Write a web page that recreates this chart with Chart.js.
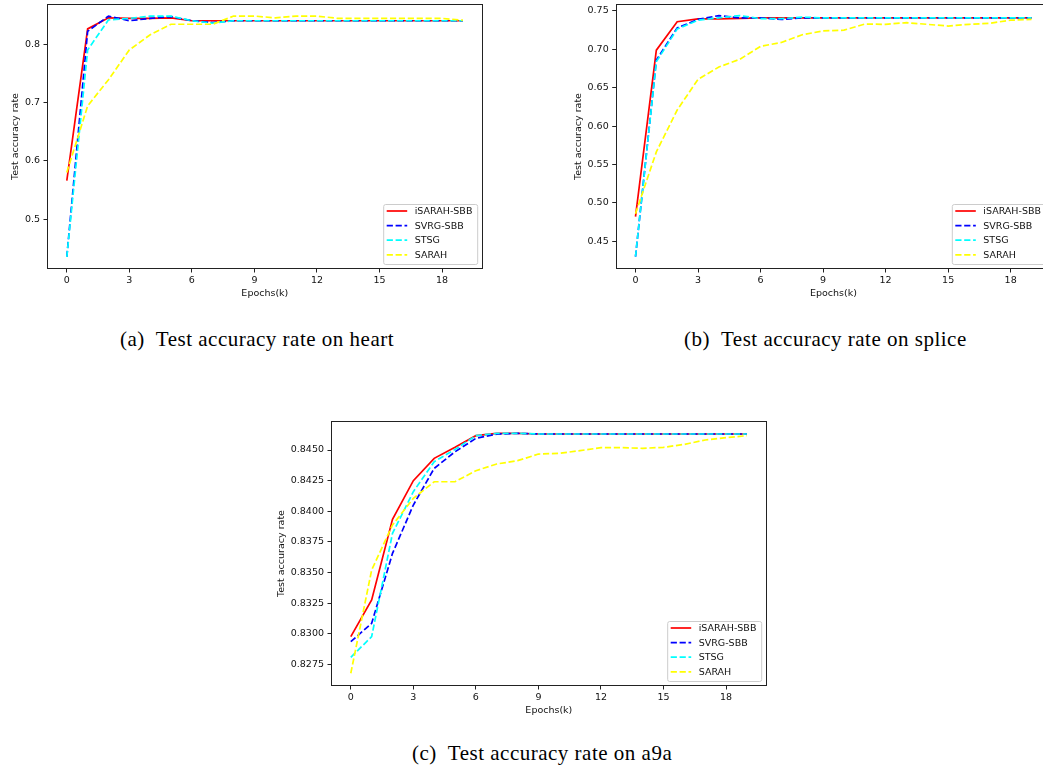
<!DOCTYPE html>
<html><head><meta charset="utf-8">
<script src="https://cdn.jsdelivr.net/npm/chart.js@4"></script>
<style>
html,body{margin:0;padding:0;background:#fff;width:1043px;height:769px;overflow:hidden;position:relative}
canvas{position:absolute;display:block}
.cap{position:absolute;font-family:"Liberation Serif","Times New Roman",serif;font-size:21px;letter-spacing:0.5px;color:#000;white-space:nowrap;line-height:21px}
.cap .g{margin-left:11px}
</style></head><body>
<canvas id="ca" width="490" height="305" style="left:0;top:0"></canvas>
<canvas id="cb" width="490" height="305" style="left:568px;top:0"></canvas>
<canvas id="cc" width="500" height="305" style="left:270px;top:417px"></canvas>
<div class="cap" style="left:120px;top:329px"><span>(a)</span><span class="g">Test accuracy rate on heart</span></div>
<div class="cap" style="left:684px;top:329px"><span>(b)</span><span class="g">Test accuracy rate on splice</span></div>
<div class="cap" style="left:412px;top:743px"><span>(c)</span><span class="g">Test accuracy rate on a9a</span></div>
<script>
const epochs = [0,1,2,3,4,5,6,7,8,9,10,11,12,13,14,15,16,17,18,19];
const xTicks = [0,3,6,9,12,15,18];
const seriesNames = ['iSARAH-SBB','SVRG-SBB','STSG','SARAH'];

// (a) heart
const heartISARAH = [0.566,0.826,0.845,0.844,0.844,0.845,0.840,0.840,0.840,0.840,0.840,0.840,0.840,0.840,0.840,0.840,0.840,0.840,0.840,0.840];
const heartSVRG   = [0.435,0.822,0.848,0.840,0.844,0.847,0.840,0.837,0.840,0.840,0.840,0.840,0.840,0.840,0.840,0.840,0.840,0.840,0.840,0.840];
const heartSTSG   = [0.435,0.790,0.8415,0.844,0.848,0.848,0.840,0.836,0.840,0.840,0.840,0.840,0.840,0.840,0.840,0.840,0.840,0.840,0.840,0.840];
const heartSARAH  = [0.580,0.694,0.739,0.790,0.816,0.834,0.834,0.834,0.848,0.848,0.845,0.848,0.848,0.844,0.844,0.844,0.844,0.844,0.844,0.841];
const heartTicks  = [0.5,0.6,0.7,0.8];

// (b) splice
const spliceISARAH = [0.482,0.699,0.736,0.7396,0.7396,0.7404,0.741,0.741,0.741,0.741,0.741,0.741,0.741,0.741,0.741,0.741,0.741,0.741,0.741,0.741];
const spliceSVRG   = [0.430,0.686,0.728,0.739,0.744,0.741,0.741,0.739,0.741,0.741,0.741,0.741,0.741,0.741,0.741,0.741,0.741,0.741,0.741,0.741];
const spliceSTSG   = [0.430,0.684,0.7265,0.738,0.741,0.744,0.740,0.740,0.742,0.741,0.741,0.741,0.741,0.741,0.741,0.741,0.741,0.741,0.741,0.741];
const spliceSARAH  = [0.486,0.5665,0.621,0.661,0.677,0.687,0.704,0.709,0.719,0.724,0.725,0.733,0.7326,0.7348,0.7326,0.7304,0.7326,0.734,0.738,0.739];
const spliceTicks  = [0.45,0.50,0.55,0.60,0.65,0.70,0.75];

// (c) a9a
const a9aISARAH = [0.82976,0.83275,0.83934,0.8425,0.84432,0.84522,0.84617,0.84636,0.84636,0.84631,0.84631,0.84631,0.84631,0.84631,0.84631,0.84631,0.84631,0.84631,0.84631,0.84631];
const a9aSVRG   = [0.82935,0.83085,0.83656,0.84051,0.8435,0.84486,0.84595,0.8463,0.84636,0.84631,0.84631,0.84631,0.84631,0.84631,0.84631,0.84631,0.84631,0.84631,0.84631,0.84631];
const a9aSTSG   = [0.82807,0.82976,0.8382,0.8416,0.84405,0.84505,0.84617,0.84636,0.84636,0.84631,0.84631,0.84631,0.84631,0.84631,0.84631,0.84631,0.84631,0.84631,0.84631,0.84631];
const a9aSARAH  = [0.82677,0.8352,0.83888,0.84105,0.84241,0.84241,0.84331,0.84386,0.84413,0.84467,0.84473,0.84495,0.84519,0.84519,0.84514,0.84522,0.84546,0.84582,0.84601,0.84617];
const a9aTicks  = [0.8275,0.8300,0.8325,0.8350,0.8375,0.8400,0.8425,0.8450];

const colors = ['#ff0000','#0000ff','#00ffff','#ffff00'];
const dashes = [[],[6.2,2.7],[6.2,2.7],[6.2,2.7]];
const LW = 1.7;
const FONT = 'DejaVu Sans';
const FS = 9.5;
const TXT = '#111';

const framePlugin = {
  id:'frame',
  afterDatasetsDraw(chart){
    const a = chart.chartArea, ctx = chart.ctx;
    ctx.save();
    ctx.strokeStyle = '#222'; ctx.lineWidth = 1;
    ctx.strokeRect(Math.round(a.left)+0.5, Math.round(a.top)+0.5, Math.round(a.right-a.left)-1, Math.round(a.bottom-a.top)-1);
    ctx.restore();
  }
};
const legendPlugin = {
  id:'mplLegend',
  afterDraw(chart){
    const a = chart.chartArea, ctx = chart.ctx;
    const W = 94, H = 60;
    const x0 = a.right - 5.5 - W, y0 = a.bottom - 5 - H;
    ctx.save();
    ctx.beginPath();
    if (ctx.roundRect) ctx.roundRect(x0+0.5, y0+0.5, W, H, 2); else ctx.rect(x0+0.5,y0+0.5,W,H);
    ctx.fillStyle = 'rgba(255,255,255,0.8)'; ctx.fill();
    ctx.strokeStyle = '#cccccc'; ctx.lineWidth = 1; ctx.stroke();
    ctx.font = FS + 'px "' + FONT + '"';
    ctx.textBaseline = 'middle'; ctx.textAlign = 'left';
    chart.data.datasets.forEach((ds, i) => {
      const y = y0 + 7 + i*14.6;
      ctx.beginPath();
      ctx.setLineDash(ds.borderDash || []);
      ctx.strokeStyle = ds.borderColor; ctx.lineWidth = LW;
      ctx.moveTo(x0+3.5, y); ctx.lineTo(x0+24, y); ctx.stroke();
      ctx.setLineDash([]);
      ctx.fillStyle = TXT;
      ctx.fillText(ds.label, x0+31.5, y+0.5);
    });
    ctx.restore();
  }
};

function makeChart(id, series, yTicks, ymin, ymax, decimals, yAxisW, padRight, titlePad){
  const datasets = series.map((vals, i) => ({
    label: seriesNames[i],
    data: epochs.map((e, j) => ({x: e, y: vals[j]})),
    borderColor: colors[i],
    backgroundColor: colors[i],
    borderWidth: LW,
    borderDash: dashes[i],
    pointRadius: 0,
    tension: 0,
    fill: false,
    order: 3 - i
  }));
  return new Chart(document.getElementById(id), {
    type: 'line',
    data: {datasets},
    options: {
      responsive: false,
      animation: false,
      events: [],
      layout: {padding: {top: 4, right: padRight, left: 0, bottom: 0}},
      plugins: {legend: {display: false}, tooltip: {enabled: false}},
      scales: {
        x: {
          type: 'linear', min: -0.95, max: 19.95,
          afterBuildTicks: s => { s.ticks = xTicks.map(v => ({value: v})); },
          afterFit: s => { s.height = 36; s.paddingLeft = 0; s.paddingRight = 0; s.paddingTop = 0; s.paddingBottom = 0; },
          ticks: {color: TXT, font: {family: FONT, size: FS}, padding: 2, maxRotation: 0, autoSkip: false, callback: v => String(v)},
          grid: {display: true, drawOnChartArea: false, drawTicks: true, tickLength: 3.5, color: '#222', lineWidth: 1},
          border: {display: false},
          title: {display: true, text: 'Epochs(k)', color: TXT, font: {family: FONT, size: FS}, padding: {top: 0, bottom: 5.5}}
        },
        y: {
          type: 'linear', min: ymin, max: ymax,
          afterBuildTicks: s => { s.ticks = yTicks.map(v => ({value: v})); },
          afterFit: s => { s.width = yAxisW; s.paddingLeft = 0; s.paddingRight = 0; s.paddingTop = 0; s.paddingBottom = 0; },
          ticks: {color: TXT, font: {family: FONT, size: FS}, padding: 3.5, autoSkip: false, callback: v => v.toFixed(decimals)},
          grid: {display: true, drawOnChartArea: false, drawTicks: true, tickLength: 3.5, color: '#222', lineWidth: 1},
          border: {display: false},
          title: {display: true, text: 'Test accuracy rate', color: TXT, font: {family: FONT, size: FS}, padding: {top: titlePad, bottom: 0}}
        }
      }
    },
    plugins: [framePlugin, legendPlugin]
  });
}

makeChart('ca', [heartISARAH, heartSVRG, heartSTSG, heartSARAH], heartTicks, 0.4144, 0.8687, 1, 47, 7.3, 10);
makeChart('cb', [spliceISARAH, spliceSVRG, spliceSTSG, spliceSARAH], spliceTicks, 0.4139, 0.7591, 2, 47.7, 6.7, 4.6);
makeChart('cc', [a9aISARAH, a9aSVRG, a9aSTSG, a9aSARAH], a9aTicks, 0.82573, 0.84737, 4, 61, 3.3, 6);
</script>
</body></html>
